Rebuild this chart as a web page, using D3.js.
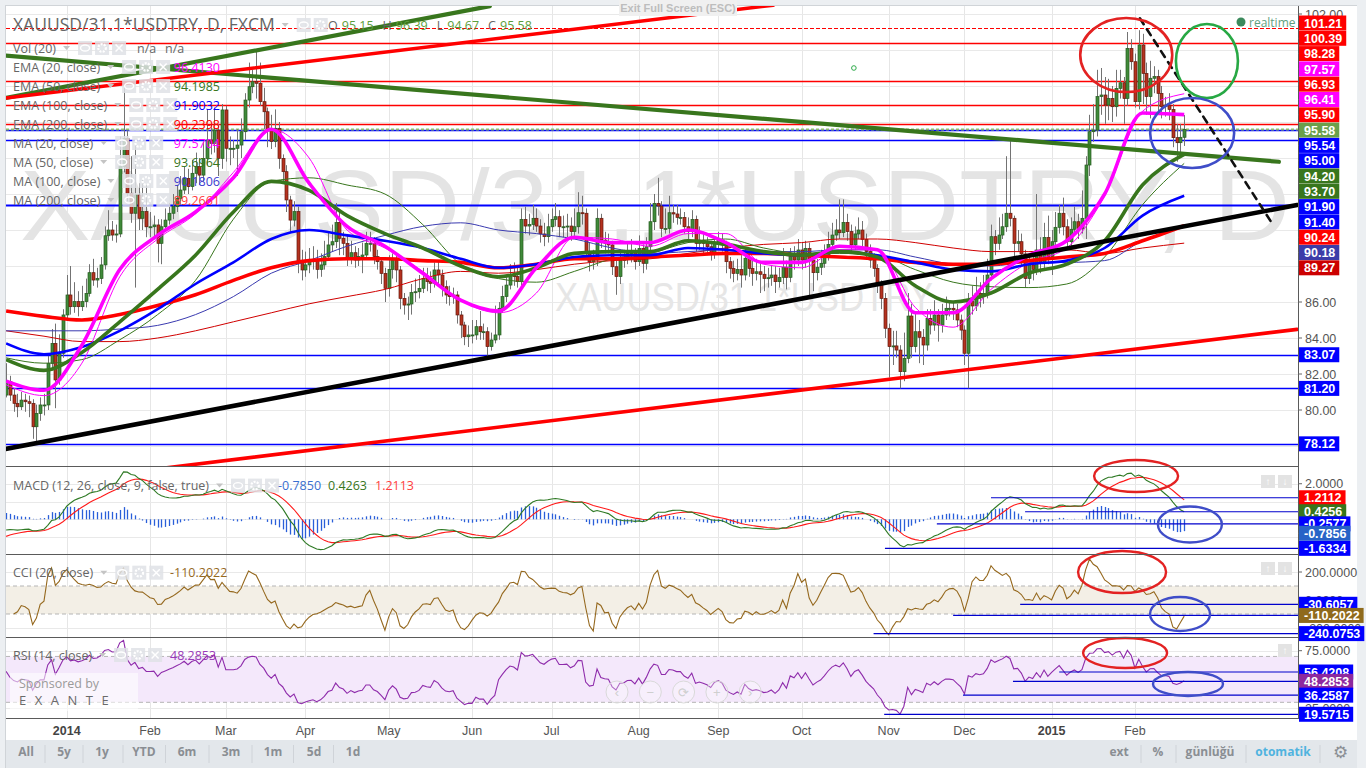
<!DOCTYPE html>
<html><head><meta charset="utf-8">
<script src="https://cdn.jsdelivr.net/npm/d3@7"></script>
<style>html,body{margin:0;padding:0;background:#eceff2;overflow:hidden}svg{display:block}</style>
</head><body>
<svg id="chart" width="1366" height="768"></svg>
<script>
// ---------------- DATA ----------------
const firstOpen = 80.83;
const closes = [
81.57,80.83,80.37,80.18,80.55,80.46,80.37,79.07,79.81,80.28,
80.28,82.59,83.70,81.67,83.15,85.28,86.39,85.74,86.02,85.74,
86.02,86.48,87.63,87.22,87.31,88.06,89.68,90.00,89.72,89.78,
93.52,95.09,92.04,90.93,91.94,90.65,91.02,90.18,90.18,90.28,
89.26,90.18,90.55,90.93,91.30,91.76,92.22,92.87,92.41,93.15,
93.52,93.05,93.98,95.00,94.81,95.55,93.98,96.67,94.54,94.54,
94.54,94.72,95.46,97.22,97.96,98.24,98.15,97.13,96.57,95.55,
94.91,95.65,93.98,93.24,91.67,90.55,91.02,88.24,87.78,88.06,
88.24,88.37,87.81,88.06,88.52,89.17,89.35,90.41,89.54,89.26,
88.37,88.74,88.33,88.52,88.61,89.26,89.26,88.52,88.24,87.59,
86.76,87.81,88.33,87.78,86.20,85.83,85.89,86.52,86.57,86.76,
87.31,87.13,87.04,87.78,87.50,86.85,86.39,86.30,86.39,85.28,
84.72,84.07,84.17,84.17,84.63,84.35,84.35,83.52,83.89,84.17,
85.65,86.30,86.94,87.50,87.41,87.13,90.59,90.22,90.31,90.65,
90.22,89.78,89.63,90.18,90.59,90.74,90.18,90.18,90.22,89.91,
90.18,90.96,90.93,88.80,88.24,88.33,90.65,89.44,89.26,89.17,
87.96,87.41,88.33,88.37,88.70,88.74,88.24,88.98,88.15,89.07,
90.46,91.48,91.33,90.09,90.09,90.96,90.89,90.70,90.70,90.18,
89.91,90.59,89.26,89.44,89.26,89.07,88.70,89.26,89.44,89.17,
88.24,87.87,87.59,87.81,87.50,88.43,87.87,87.59,87.68,87.54,
87.31,87.35,87.50,87.13,87.37,87.93,87.37,88.52,88.33,88.89,
88.33,88.98,88.33,87.63,87.93,88.15,88.61,89.20,89.72,90.00,
89.85,90.42,89.91,89.17,89.78,90.00,89.48,88.80,88.33,87.87,
86.94,86.20,84.54,83.52,83.56,83.33,82.13,82.87,85.22,83.52,
84.35,84.04,83.61,85.09,84.72,85.28,84.72,85.28,85.65,85.65,
85.56,85.00,84.44,83.15,86.02,85.78,86.48,86.30,86.48,87.50,
89.63,89.26,89.72,90.18,90.93,90.65,89.26,89.35,88.67,87.31,
88.06,87.81,88.89,88.15,89.59,88.52,89.35,90.15,90.93,90.18,
89.35,90.04,90.46,90.09,90.65,93.61,95.46,95.55,97.41,97.50,
96.94,97.31,96.85,97.87,98.18,97.31,100.09,99.35,97.13,100.28,
98.70,97.41,98.43,98.52,97.59,96.85,96.94,96.70,95.13,94.85,
95.15,95.58];
const highs = [
82.6,81.9,81.2,80.9,81.0,80.9,80.8,80.6,80.3,80.7,
80.9,83.0,84.5,84.8,84.2,85.6,87.5,88.0,87.1,86.6,
86.9,87.3,88.1,88.4,87.9,88.5,90.2,91.1,90.5,90.3,
95.2,98.1,95.5,94.1,94.7,92.6,92.8,92.5,91.0,90.8,
90.6,90.6,91.2,91.5,92.0,92.5,93.0,93.5,93.4,93.9,
94.3,94.0,94.9,96.7,95.9,96.8,95.9,97.0,96.9,95.2,
95.0,95.6,96.2,97.6,99.3,98.9,100.0,99.3,97.9,96.8,
96.4,96.7,96.0,94.2,93.6,91.9,91.6,91.3,88.9,88.8,
89.0,89.1,88.9,88.7,89.4,89.9,90.3,91.5,91.0,89.9,
89.7,89.4,89.1,89.0,89.3,89.9,89.9,89.6,88.9,88.5,
87.9,88.6,88.7,88.6,88.0,86.5,86.3,87.0,87.3,87.5,
87.9,87.9,87.7,88.2,88.3,87.8,87.2,86.9,86.8,86.6,
85.5,84.9,84.7,85.0,85.0,85.5,84.8,84.6,84.3,85.8,
86.0,86.9,87.4,88.1,88.2,87.9,91.2,91.3,90.9,91.4,
91.2,90.6,90.4,90.9,91.2,91.5,91.1,90.8,90.9,90.7,
91.2,92.1,91.9,91.2,89.3,88.9,91.2,90.9,89.9,89.8,
89.4,88.3,88.8,88.9,89.3,89.5,89.0,89.7,89.2,89.6,
91.5,92.0,92.9,91.6,91.2,91.9,91.4,91.4,91.2,91.0,
90.7,91.1,90.8,90.2,89.9,89.6,89.4,89.6,89.9,89.8,
89.4,88.5,88.3,88.4,88.6,89.0,88.7,88.3,88.4,88.2,
88.0,87.9,88.0,88.0,87.9,89.0,88.3,89.0,89.1,89.5,
89.3,89.4,89.3,88.6,88.4,88.9,89.2,89.9,90.4,90.6,
91.7,91.7,90.9,90.3,90.2,90.7,90.5,89.8,89.2,88.7,
88.1,87.2,86.5,84.8,84.4,84.4,83.6,84.3,86.5,85.9,
85.4,85.0,84.5,85.6,85.6,86.1,85.6,85.9,86.3,86.1,
86.0,85.9,85.3,84.7,86.5,86.9,87.4,87.1,87.5,88.4,
90.3,90.0,90.7,90.9,94.1,95.0,90.8,90.0,89.8,88.9,
88.6,88.5,92.0,89.6,90.4,90.8,90.0,91.0,91.4,91.8,
90.6,90.7,91.3,90.9,92.2,94.1,96.4,97.0,98.9,99.0,
98.5,98.4,98.0,98.9,98.9,98.5,101.0,100.6,99.8,101.1,
100.9,99.3,99.4,99.1,98.9,98.0,97.4,97.6,97.0,95.9,
95.9,96.39];
const lows = [
80.7,80.5,79.9,79.6,80.0,79.9,79.6,78.4,78.1,79.4,
79.7,80.0,82.2,80.1,81.4,82.9,85.0,85.3,85.4,85.2,
85.5,85.7,86.3,86.9,86.8,87.0,87.8,89.4,89.4,89.3,
89.6,93.2,91.6,90.4,86.8,90.0,90.0,89.6,89.6,89.6,
88.2,88.1,89.9,90.3,90.6,91.0,91.4,92.0,92.0,92.2,
92.6,92.5,92.7,93.6,94.2,94.3,93.0,93.4,93.8,93.6,
94.0,93.0,94.0,95.0,96.8,97.6,97.3,96.9,95.6,94.6,
94.5,94.6,93.4,92.7,91.0,89.9,90.2,87.6,87.2,87.4,
87.6,87.8,87.3,87.4,87.8,88.3,88.8,89.0,88.6,88.6,
88.0,88.1,87.9,88.0,87.6,88.4,88.8,88.1,87.8,87.0,
86.0,86.3,87.3,87.1,85.6,85.3,85.0,85.3,86.0,86.2,
86.5,86.6,86.5,86.8,87.0,86.3,85.9,85.8,85.9,84.8,
84.0,83.6,83.5,83.7,83.9,83.9,83.9,83.0,83.3,83.7,
83.9,85.4,86.0,86.7,86.9,86.8,86.9,89.8,89.7,90.0,
89.9,89.3,89.1,89.3,89.9,90.2,89.6,89.6,89.6,89.4,
89.6,89.8,90.3,88.4,87.7,87.8,88.0,89.0,88.7,88.7,
87.5,86.4,87.0,87.9,88.1,88.2,87.8,88.0,87.6,87.8,
88.8,90.0,90.8,89.6,89.8,89.8,90.4,90.3,90.3,89.8,
89.3,89.6,88.8,88.9,88.7,88.6,88.3,88.4,89.0,88.8,
87.6,87.3,87.1,87.2,86.8,87.2,87.4,86.9,87.2,86.5,
86.6,86.8,86.9,86.5,86.8,87.0,86.7,87.1,87.8,88.0,
87.8,87.9,86.2,86.6,87.2,87.5,87.9,88.3,88.9,89.4,
89.5,89.6,89.4,88.8,88.9,89.5,89.1,88.4,87.9,87.4,
86.5,85.6,84.0,81.8,82.5,82.9,81.2,81.6,82.6,82.9,
83.2,82.6,82.5,83.3,84.2,84.4,83.8,84.3,85.0,85.2,
85.0,84.6,83.9,82.5,81.2,85.3,85.5,85.7,85.9,86.2,
87.2,88.6,88.9,89.5,89.9,90.2,88.5,88.8,88.0,86.8,
87.0,87.2,87.5,87.6,87.8,88.1,87.5,88.9,89.8,89.7,
88.9,89.0,89.8,89.5,89.8,89.5,93.0,94.9,95.2,96.4,
95.9,96.1,96.0,96.3,97.3,95.9,96.9,98.9,96.8,96.7,
97.0,96.4,96.2,97.6,96.6,96.2,96.3,96.1,94.6,93.8,
94.3,94.67];

const tickLabels = ["2014","Feb","Mar","Apr","May","Jun","Jul","Aug","Sep","Oct","Nov","Dec","2015","Feb"];
const tickIndex  = [16,38,58,79,101,123,144,167,188,210,233,253,276,298];

// moving averages read at these bar indices
const maIdx  = [0,10,20,30,40,50,60,70,80,90,100,110,120,130,140,150,160,170,180,190,200,210,220,230,240,250,260,270,280,290,300,311];
const ema20  = [81.6,81.1,83.6,87.8,89.7,91.0,92.9,95.6,92.6,90.2,89.1,87.6,86.1,85.5,87.9,89.6,89.3,89.3,90.0,89.3,88.2,88.2,89.1,88.9,85.4,85.4,87.3,88.6,89.4,92.0,96.5,96.41];
const ma20   = [81.4,80.8,82.6,87.4,89.5,90.9,93.2,95.6,94.0,90.0,89.0,87.7,86.1,85.4,86.5,89.6,89.5,89.1,89.8,89.8,88.1,87.9,88.9,88.9,85.7,84.6,86.7,88.2,89.0,91.9,96.6,97.57];
const ema50  = [82.8,82.2,83.2,84.9,86.7,88.6,91.0,92.7,92.2,90.8,89.8,89.0,88.0,87.4,87.9,88.7,88.8,88.8,89.4,89.2,88.8,88.6,88.8,88.5,86.9,86.0,86.5,87.6,88.1,89.4,92.5,94.2];
const ma50   = [82.9,82.6,82.8,83.9,85.3,87.2,90.6,92.7,92.9,92.5,92.0,90.3,88.1,87.3,87.1,87.7,88.4,88.7,89.3,89.5,89.0,88.7,88.7,88.6,87.8,87.1,86.85,86.8,87.0,88.5,91.4,93.7];
const ema100 = [83.7,83.1,83.5,84.4,85.6,87.0,88.2,89.5,90.0,89.7,89.4,89.0,88.4,87.9,88.1,88.5,88.6,88.6,89.0,88.9,88.7,88.6,88.8,88.6,88.2,87.8,87.7,88.1,88.3,89.0,90.8,91.9];
const ma100  = [84.4,84.4,84.4,84.5,84.7,85.3,86.3,87.6,88.3,89.1,89.7,90.2,90.4,90.0,89.8,89.5,89.0,88.7,88.8,88.9,88.8,88.8,88.9,88.9,88.5,88.1,88.0,88.2,88.2,88.3,89.4,90.18];
const ema200 = [85.5,85.2,85.0,85.3,85.8,86.4,87.2,87.9,88.3,88.4,88.4,88.3,88.2,87.9,88.1,88.4,88.4,88.5,88.6,88.7,88.7,88.6,88.5,88.4,88.2,88.1,88.1,88.3,88.5,88.7,89.4,90.24];
const ma200  = [84.4,84.1,83.8,83.8,84.0,84.4,84.9,85.4,85.9,86.3,86.7,87.3,87.7,87.6,87.8,88.1,88.3,88.4,88.7,89.0,89.2,89.3,89.5,89.5,89.3,89.0,88.8,88.8,88.9,88.7,89.0,89.27];

// indicator seeds (state before the first visible bar)
const ema12Seed = 81.0, ema26Seed = 81.7, signalSeed = -1.05;
const rsiSeedGain = 0.30, rsiSeedLoss = 0.27;

// horizontal levels on the price pane
const levelValues = [101.21,100.39,98.28,96.93,95.90,95.54,95.00,91.40,83.07,81.20,78.12];
const levelKinds  = ["r-dash","r","r","r","r","b","b","b2","b","b","b"];
const lastClose = 95.58;

// right-axis price labels
const axisLabelValues = [101.21,100.39,98.28,97.57,96.93,96.41,95.90,95.58,95.54,95.00,94.20,93.70,91.90,91.40,90.24,90.18,89.27];
const axisLabelKinds  = ["red","red","red","mag","red","mag","red","close","blue","blue","dgreen","dgreen","blue","blue","red","slate","dred"];
const lowLabelValues  = [83.07,81.20,78.12];
const priceTicks = [102,86,84,82,80];

// legend
const legendNames  = ["EMA (20, close)","EMA (50, close)","EMA (100, close)","EMA (200, close)","MA (20, close)","MA (50, close)","MA (100, close)","MA (200, close)"];
const legendValues = ["96.4130","94.1985","91.9032","90.2398","97.5704","93.6964","90.1806","89.2661"];
const ohlcNames  = ["O","H","L","C"];
const ohlcValues = ["95.15","96.39","94.67","95.58"];

// trend lines [barIndex, price]
const trendFrom = [[-0.3,97.33],[-0.3,99.69],[0,97.33],[39.3,76.71],[-0.3,77.83],[299.3,101.76]];
const trendTo   = [[127.7,102.44],[336.0,93.79],[202.5,102.49],[340.8,84.48],[340.8,91.39],[334.2,90.37]];
const trendKinds = ["green","green","red","red","black","dash"];

// ellipses: centre [bar, value]
const ellMainCenters = [[295.7,99.72],[317,99.39],[313.1,95.39]];
const ellMacdCenters = [[298.3,2.435],[312.5,-0.29]];
const ellCciCenters  = [[294.6,200],[309.9,-100]];
const ellRsiCenters  = [[295.4,73],[312,46]];

// indicator level lines: [value, startBar]
const macdLevels = [[1.2112,260],[0.4256,269],[-0.2577,245.7],[-1.6334,232]];
const cciLevels  = [[-30.6057,267.7],[-110.2022,250],[-240.0753,229]];
const rsiLevels  = [[56.4208,278],[48.2853,265.8],[36.2587,252.6],[19.5715,231.8]];
const macdLegend = ["-0.7850","0.4263","1.2113"];
const cciLegend = "-110.2022", rsiLegend = "48.2853";
const macdTicks=[2], cciTicks=[200,0,-200], rsiTicks=[75,50,25];

// ---------------- DRAW ----------------
const svg = d3.select('#chart');
const AX = '"Liberation Sans", Arial, sans-serif';
const UI = '"Open Sans", "Liberation Sans", Arial, sans-serif';
const PL = 6, PR = 1298;
const P = {main:[6,466], macd:[467,554], cci:[555,637], rsi:[638,718]};

const x  = d3.scaleLinear().domain([0, closes.length-1]).range([6.1, 1184.2]);
const y  = d3.scaleLinear().domain([86,102]).range([302,14]);
const yM = d3.scaleLinear().domain([0,2]).range([519.3,483.74]);
const yC = d3.scaleLinear().domain([0,200]).range([600,572]);
const yR = d3.scaleLinear().domain([75,25]).range([650.7,708.05]);

const defs = svg.append('defs');
Object.entries(P).forEach(([k,[t,b]])=>{
  defs.append('clipPath').attr('id','clip-'+k).append('rect')
    .attr('x',PL).attr('y',t).attr('width',PR-PL).attr('height',b-t);
});

// frame
svg.append('rect').attr('width',1366).attr('height',768).attr('fill','#eceff2');
svg.append('rect').attr('x',6).attr('y',5).attr('width',1351).attr('height',735).attr('fill','#ffffff');
svg.append('rect').attr('x',6).attr('y',740).attr('width',1351).attr('height',28).attr('fill','#e3e7eb');
svg.append('line').attr('x1',5.5).attr('x2',5.5).attr('y1',5).attr('y2',768).attr('stroke','#d0d4d8');
svg.append('line').attr('x1',5).attr('x2',1357).attr('y1',5.5).attr('y2',5.5).attr('stroke','#d0d4d8');

// vertical grid
const grid = svg.append('g');
grid.selectAll('line.v').data(tickIndex).join('line')
  .attr('x1',d=>Math.round(x(d))+0.5).attr('x2',d=>Math.round(x(d))+0.5)
  .attr('y1',6).attr('y2',718).attr('stroke','#e6e6e6');
// horizontal grids
grid.selectAll('line.hm').data(d3.range(78,103,2)).join('line')
  .attr('x1',PL).attr('x2',PR).attr('y1',d=>Math.round(y(d))+0.5).attr('y2',d=>Math.round(y(d))+0.5).attr('stroke','#e9e9e9');
[[yM,[2,1,0,-1]],[yC,[200,0,-200]],[yR,[75,50,25]]].forEach(([sc,vals])=>{
  vals.forEach(v=>grid.append('line').attr('x1',PL).attr('x2',PR)
    .attr('y1',Math.round(sc(v))+0.5).attr('y2',Math.round(sc(v))+0.5).attr('stroke','#e9e9e9'));
});

// watermarks
const gMain = svg.append('g').attr('clip-path','url(#clip-main)');
gMain.append('text').attr('x',20).attr('y',240).attr('font-family',AX).attr('font-size',100)
  .attr('fill','#e4e4e4').attr('textLength',1270).attr('lengthAdjust','spacingAndGlyphs').text('XAUUSD/31.1*USDTRY, D');
gMain.append('text').attr('x',555).attr('y',311).attr('font-family',AX).attr('font-size',40)
  .attr('fill','#e6e6e6').attr('textLength',378).attr('lengthAdjust','spacingAndGlyphs').text('XAUUSD/31.1*USDTRY');

// level lines
const levelStyle = {"r-dash":["#ff0000",1.2,"4,2"],"r":["#ff0000",1.3,null],"b":["#0000ff",1.3,null],"b2":["#0000ff",2.2,null]};
levelValues.forEach((v,k)=>{
  const s = levelStyle[levelKinds[k]];
  gMain.append('line').attr('x1',PL).attr('x2',PR).attr('y1',Math.round(y(v))+0.5).attr('y2',Math.round(y(v))+0.5)
    .attr('stroke',s[0]).attr('stroke-width',s[1]).attr('stroke-dasharray',s[2]);
});
gMain.append('line').attr('x1',PL).attr('x2',PR).attr('y1',y(lastClose)).attr('y2',y(lastClose))
  .attr('stroke','#8dbb6d').attr('stroke-width',2).attr('stroke-dasharray','3,2');

// candles
const bars = closes.map((c,i)=>{
  const o = i ? closes[i-1] : firstOpen;
  return {i, o, c, h: Math.max(highs[i],o,c), l: Math.min(lows[i],o,c)};
});
const gC = gMain.append('g');
gC.selectAll('line').data(bars).join('line')
  .attr('x1',d=>Math.round(x(d.i))+0.5).attr('x2',d=>Math.round(x(d.i))+0.5)
  .attr('y1',d=>y(d.h)).attr('y2',d=>y(d.l)).attr('stroke','#737373').attr('stroke-width',1);
gC.selectAll('rect').data(bars).join('rect')
  .attr('x',d=>Math.round(x(d.i))-1)
  .attr('y',d=>y(Math.max(d.o,d.c)))
  .attr('width',3)
  .attr('height',d=>Math.max(1,y(Math.min(d.o,d.c))-y(Math.max(d.o,d.c))))
  .attr('fill',d=>d.c>=d.o?'#3f8a3a':'#b5321f')
  .attr('stroke',d=>d.c>=d.o?'#265a1f':'#62190e').attr('stroke-width',0.7);

// moving averages
const maLine = d3.line().x((d,k)=>x(maIdx[k])).y(d=>y(d)).curve(d3.curveMonotoneX);
[[ma200,'#d00000',1],[ma100,'#3a3ab0',1],[ma50,'#38761d',1],[ma20,'#ff00ff',1],
 [ema200,'#ff0000',3.6],[ema100,'#0000ff',2.6],[ema50,'#38761d',3.6],[ema20,'#ff00ff',3.6]]
.forEach(([arr,col,w])=>{
  gMain.append('path').attr('d',maLine(arr)).attr('fill','none').attr('stroke',col).attr('stroke-width',w)
    .attr('stroke-linejoin','round');
});

// trend lines
const trendStyle = {green:['#38761d',4.2,null],red:['#ff0000',3.6,null],black:['#000000',4.6,null],dash:['#111111',2.6,'7,6']};
trendFrom.forEach((f,k)=>{
  const t = trendTo[k], s = trendStyle[trendKinds[k]];
  gMain.append('line').attr('x1',x(f[0])).attr('y1',y(f[1])).attr('x2',x(t[0])).attr('y2',y(t[1]))
    .attr('stroke',s[0]).attr('stroke-width',s[1]).attr('stroke-dasharray',s[2]).attr('stroke-linecap','round');
});
// ellipses main
const ellCols = ['#e32222','#27a844','#3f4dc8'];
const ellMainR = [[46,37],[31,37],[42,35]];
ellMainCenters.forEach((c,k)=>{
  svg.append('ellipse').attr('cx',x(c[0])).attr('cy',y(c[1])).attr('rx',ellMainR[k][0]).attr('ry',ellMainR[k][1])
    .attr('fill','none').attr('stroke',ellCols[k]).attr('stroke-width',2.6);
});
// small green marker
gMain.append('circle').attr('cx',x(223.8)).attr('cy',y(99.0)).attr('r',2.3).attr('fill','none').attr('stroke','#2eaa4a').attr('stroke-width',1);

// ---------- indicators ----------
function ema(arr,n,seed){const k=2/(n+1);let e=seed;return arr.map(v=>(e=e+k*(v-e)));}
const e12 = ema(closes,12,ema12Seed), e26 = ema(closes,26,ema26Seed);
const macd = e12.map((v,i)=>v-e26[i]);
const signal = ema(macd,9,signalSeed);
const hist = macd.map((v,i)=>v-signal[i]);

const tp = closes.map((c,i)=>(bars[i].h+bars[i].l+c)/3);
const cci = tp.map((t,i)=>{
  const w = tp.slice(Math.max(0,i-19), i+1);
  if (w.length < 3) return null;
  const m = d3.mean(w), md = d3.mean(w, v=>Math.abs(v-m));
  return md ? (t-m)/(0.015*md) : 0;
});
let ag = rsiSeedGain, al = rsiSeedLoss;
const rsi = closes.map((c,i)=>{
  const ch = c - (i ? closes[i-1] : firstOpen);
  ag = (ag*13 + Math.max(ch,0))/14; al = (al*13 + Math.max(-ch,0))/14;
  return 100 - 100/(1 + ag/al);
});

// MACD pane
const gMacd = svg.append('g').attr('clip-path','url(#clip-macd)');
gMacd.selectAll('line.h').data(hist).join('line')
  .attr('x1',(d,i)=>Math.round(x(i))+0.5).attr('x2',(d,i)=>Math.round(x(i))+0.5)
  .attr('y1',yM(0)).attr('y2',d=>yM(d)).attr('stroke','#2a5fd9').attr('stroke-width',1.3);
gMacd.append('path').attr('d',d3.line().x((d,i)=>x(i)).y(d=>yM(d))(signal)).attr('fill','none').attr('stroke','#ff1a1a').attr('stroke-width',1.1);
gMacd.append('path').attr('d',d3.line().x((d,i)=>x(i)).y(d=>yM(d))(macd)).attr('fill','none').attr('stroke','#2f7a25').attr('stroke-width',1.1);
macdLevels.forEach(([v,s])=>gMacd.append('line').attr('x1',x(s)).attr('x2',PR).attr('y1',yM(v)).attr('y2',yM(v)).attr('stroke','#0000cc').attr('stroke-width',1.2));

// CCI pane
const gCci = svg.append('g').attr('clip-path','url(#clip-cci)');
gCci.append('rect').attr('x',PL).attr('width',PR-PL).attr('y',yC(100)).attr('height',yC(-100)-yC(100)).attr('fill','#f3efe6');
[100,-100].forEach(v=>gCci.append('line').attr('x1',PL).attr('x2',PR).attr('y1',yC(v)).attr('y2',yC(v)).attr('stroke','#b5b5b5').attr('stroke-dasharray','4,3'));
gCci.append('path').attr('d',d3.line().defined(d=>d!==null).x((d,i)=>x(i)).y(d=>yC(d))(cci)).attr('fill','none').attr('stroke','#95681e').attr('stroke-width',1.1);
cciLevels.forEach(([v,s])=>gCci.append('line').attr('x1',x(s)).attr('x2',PR).attr('y1',yC(v)).attr('y2',yC(v)).attr('stroke','#0000cc').attr('stroke-width',1.2));

// RSI pane
const gRsi = svg.append('g').attr('clip-path','url(#clip-rsi)');
gRsi.append('rect').attr('x',PL).attr('width',PR-PL).attr('y',yR(70)).attr('height',yR(30)-yR(70)).attr('fill','#f4e8fb');
[70,30].forEach(v=>gRsi.append('line').attr('x1',PL).attr('x2',PR).attr('y1',yR(v)).attr('y2',yR(v)).attr('stroke','#b5b5b5').attr('stroke-dasharray','4,3'));
gRsi.append('path').attr('d',d3.line().x((d,i)=>x(i)).y(d=>yR(d))(rsi)).attr('fill','none').attr('stroke','#8e2bab').attr('stroke-width',1.1);
rsiLevels.forEach(([v,s])=>gRsi.append('line').attr('x1',x(s)).attr('x2',PR).attr('y1',yR(v)).attr('y2',yR(v)).attr('stroke','#0000cc').attr('stroke-width',1.2));

// indicator ellipses
const ellR2 = [[[42,16],[32,18]],[[44,21],[30,17]],[[42,15],[35,12]]];
[[ellMacdCenters,yM],[ellCciCenters,yC],[ellRsiCenters,yR]].forEach(([cs,sc],p)=>{
  cs.forEach((c,k)=>svg.append('ellipse').attr('cx',x(c[0])).attr('cy',sc(c[1]))
    .attr('rx',ellR2[p][k][0]).attr('ry',ellR2[p][k][1]).attr('fill','none')
    .attr('stroke',k===0?'#e32222':'#3f4dc8').attr('stroke-width',2.4));
});

// sponsored box + nav circles
svg.append('rect').attr('x',10).attr('y',673).attr('width',128).attr('height',38).attr('fill','#ffffff').attr('opacity',0.55);
svg.append('text').attr('x',19).attr('y',688).attr('font-family',UI).attr('font-size',12.5).attr('fill','#9a9a9a').text('Sponsored by');
svg.append('text').attr('x',19).attr('y',705).attr('font-family',UI).attr('font-size',13).attr('fill','#6a6a6a').attr('letter-spacing',8.5).text('EXANTE');
const navG = ['‹','−','⟳','+','›'];
navG.forEach((g,k)=>{
  const cx = 617 + k*33.3;
  svg.append('circle').attr('cx',cx).attr('cy',692).attr('r',11).attr('fill','#ffffff').attr('fill-opacity',0.3).attr('stroke','#d9d9d9');
  svg.append('text').attr('x',cx).attr('y',697).attr('text-anchor','middle').attr('font-family',AX).attr('font-size',13).attr('fill','#cfcfcf').text(g);
});

// pane separators & axis line
[466.5,554.5,637.5,718.5].forEach(v=>svg.append('line').attr('x1',PL).attr('x2',PR).attr('y1',v).attr('y2',v).attr('stroke','#5a5a5a'));
svg.append('rect').attr('x',1299).attr('y',6).attr('width',58).attr('height',712).attr('fill','#ffffff');
svg.append('line').attr('x1',1298.5).attr('x2',1298.5).attr('y1',6).attr('y2',719).attr('stroke','#5a5a5a');

// ---------- right axis labels ----------
const gA = svg.append('g').attr('font-family',AX);
function tickText(yy,txt){
  gA.append('line').attr('x1',1298).attr('x2',1302).attr('y1',yy).attr('y2',yy).attr('stroke','#666');
  gA.append('text').attr('x',1305).attr('y',yy+4.5).attr('font-size',12.5).attr('fill','#555').text(txt);
}
function tag(yy,txt,bg){
  const g = gA.append('g');
  g.append('line').attr('x1',1298).attr('x2',1302).attr('y1',yy).attr('y2',yy).attr('stroke','#666');
  const r = g.append('rect').attr('x',1299).attr('y',yy-7.5).attr('height',15).attr('fill',bg);
  const t = g.append('text').attr('x',1304).attr('y',yy+4.6).attr('font-size',12.5).attr('font-weight','bold').attr('fill','#fff').text(txt);
  r.attr('width',t.node().getComputedTextLength()+9);
}
const kindCol = {red:'#ff0000',mag:'#ff00ff',close:'#6a9f4b',blue:'#0000ff',dgreen:'#38761d',slate:'#3c3ca8',dred:'#cc0000'};
priceTicks.forEach(v=>tickText(y(v),v.toFixed(2)));
axisLabelValues.forEach((v,k)=>tag(23 + k*15.3, v.toFixed(2), kindCol[axisLabelKinds[k]]));
lowLabelValues.forEach(v=>tag(y(v), v.toFixed(2), '#0000ff'));

macdTicks.forEach(v=>tickText(yM(v),v.toFixed(4)));
tag(yM(1.2112),'1.2112','#ff0000');
tag(yM(0.4256),'0.4256','#38761d');
tag(yM(-0.2577),'-0.2577','#0000ff');
tag(yM(-0.7856),'-0.7856','#2763c7');
tag(yM(-1.6334),'-1.6334','#0000ff');

cciTicks.forEach(v=>tickText(yC(v),v.toFixed(4)));
tag(yC(-30.6057),'-30.6057','#0000ff');
tag(yC(-110.2022),'-110.2022','#8f6a1c');
tag(yC(-240.0753),'-240.0753','#0000ff');

rsiTicks.forEach(v=>tickText(yR(v),v.toFixed(4)));
tag(yR(56.4208),'56.4208','#0000ff');
tag(yR(48.2853),'48.2853','#8e2a9e');
tag(yR(36.2587),'36.2587','#0000ff');
tag(yR(19.5715),'19.5715','#0000ff');

// pane up/down buttons
[[1261,475],[1278,475],[1261,562],[1278,562],[1278,644]].forEach(([bx,by],k)=>{
  svg.append('rect').attr('x',bx).attr('y',by).attr('width',14).attr('height',13).attr('fill','#e3e3e3');
  svg.append('text').attr('x',bx+7).attr('y',by+10).attr('text-anchor','middle').attr('font-size',10).attr('font-family',AX)
    .attr('fill','#fff').attr('font-weight','bold').text((k%2===0&&k<4)||k===4?'↑':'↓');
});

// ---------- legends ----------
const gL = svg.append('g').attr('font-family',UI);
function icons(x0,yc,n){
  for(let k=0;k<n;k++){
    const bx = x0 + k*17;
    gL.append('rect').attr('x',bx).attr('y',yc-7).attr('width',14).attr('height',14).attr('fill','#dfe2e6').attr('opacity',0.85);
    if(k===0){gL.append('ellipse').attr('cx',bx+7).attr('cy',yc).attr('rx',4.5).attr('ry',3).attr('fill','none').attr('stroke','#fff').attr('stroke-width',1.4);}
    else if(k===1){gL.append('circle').attr('cx',bx+7).attr('cy',yc).attr('r',3.8).attr('fill','none').attr('stroke','#fff').attr('stroke-width',2.2).attr('stroke-dasharray','2,1.2');}
    else {gL.append('path').attr('d',`M${bx+3.5},${yc-3.5}L${bx+10.5},${yc+3.5}M${bx+10.5},${yc-3.5}L${bx+3.5},${yc+3.5}`).attr('stroke','#fff').attr('stroke-width',1.5);}
  }
}
function caret(cx,yc){gL.append('path').attr('d',`M${cx},${yc-2}l7,0l-3.5,4z`).attr('fill','#c4c4c4');}
function legendRow(txt,yc,fs,nIcons){
  const t = gL.append('text').attr('x',13).attr('y',yc+fs*0.36).attr('font-size',fs).attr('fill','#666').text(txt);
  const e = 13 + t.node().getComputedTextLength();
  caret(e+7, yc);
  icons(e+22, yc, nIcons);
  return e;
}
// title row
const tEnd = legendRow('XAUUSD/31.1*USDTRY, D, FXCM',25,17.5,2);
let ox = 328;
ohlcNames.forEach((n,k)=>{
  const a = gL.append('text').attr('x',ox).attr('y',29.5).attr('font-size',12.5).attr('fill','#666').text(n);
  ox += a.node().getComputedTextLength()+4;
  const b = gL.append('text').attr('x',ox).attr('y',29.5).attr('font-size',12.5).attr('fill','#5c9e3c').text(ohlcValues[k]);
  ox += b.node().getComputedTextLength()+9;
});
// Vol
legendRow('Vol (20)',48,12.5,3);
gL.append('text').attr('x',137).attr('y',52.5).attr('font-size',12.5).attr('fill','#666').text('n/a');
gL.append('text').attr('x',165).attr('y',52.5).attr('font-size',12.5).attr('fill','#666').text('n/a');
const legCol = ['#ff00ff','#38761d','#0000ff','#ff0000','#ff00ff','#38761d','#3c3cd0','#ff3a3a'];
legendNames.forEach((n,k)=>{
  const yc = 67 + k*19;
  legendRow(n,yc,12.5,3);
  gL.append('text').attr('x',220).attr('y',yc+4.5).attr('text-anchor','end').attr('font-size',12.5).attr('fill',legCol[k]).text(legendValues[k]);
});
// indicator legends
legendRow('MACD (12, 26, close, 9, false, true)',485.6,12.5,3);
[['#3a6fd0',278],['#38761d',328],['#ff4040',375]].forEach(([c,xx],k)=>
  gL.append('text').attr('x',xx).attr('y',490.1).attr('font-size',12.5).attr('fill',c).text(macdLegend[k]));
legendRow('CCI (20, close)',572.7,12.5,3);
gL.append('text').attr('x',170).attr('y',577.2).attr('font-size',12.5).attr('fill','#96691e').text(cciLegend);
legendRow('RSI (14, close)',655,12.5,3);
gL.append('text').attr('x',170).attr('y',659.5).attr('font-size',12.5).attr('fill','#9a3ab8').text(rsiLegend);

// realtime
svg.append('circle').attr('cx',1241).attr('cy',22).attr('r',4.5).attr('fill','#3b8a5c');
svg.append('text').attr('x',1249).attr('y',26.5).attr('font-family',UI).attr('font-size',12).attr('fill','#5f9f80').text('realtime');

// exit full screen
svg.append('rect').attr('x',619).attr('y',0).attr('width',118).attr('height',16).attr('fill','#f0f0f0');
svg.append('text').attr('x',678).attr('y',12).attr('text-anchor','middle').attr('font-family',AX).attr('font-size',11).attr('font-weight','bold').attr('fill','#bdbdbd').text('Exit Full Screen (ESC)');

// x axis labels
const gX = svg.append('g').attr('font-family',AX).attr('font-size',12.5);
gX.selectAll('text').data(tickLabels).join('text')
  .attr('x',(d,k)=>x(tickIndex[k])).attr('y',735).attr('text-anchor','middle')
  .attr('fill',d=>/^\d+$/.test(d)?'#444':'#555').attr('font-weight',d=>/^\d+$/.test(d)?'bold':'normal').text(d=>d);

// toolbar
const gT = svg.append('g').attr('font-family',UI).attr('font-size',12).attr('font-weight','bold');
const leftBtns = [['All',26],['5y',64],['1y',102],['YTD',144],['6m',187],['3m',231],['1m',273],['5d',314],['1d',353]];
leftBtns.forEach(([t,cx],k)=>{
  gT.append('text').attr('x',cx).attr('y',755.5).attr('text-anchor','middle').attr('fill','#8a8e93').text(t);
  if(k<leftBtns.length-1){const sx=(cx+leftBtns[k+1][1])/2;gT.append('line').attr('x1',sx).attr('x2',sx).attr('y1',745).attr('y2',763).attr('stroke','#cfd3d8');}
});
[['ext',1119,'#8a8e93'],['%',1158,'#8a8e93'],['günlüğü',1210,'#8a8e93'],['otomatik',1283,'#4fb3df']].forEach(([t,cx,c])=>
  gT.append('text').attr('x',cx).attr('y',755.5).attr('text-anchor','middle').attr('fill',c).text(t));
[1141,1176,1246,1320].forEach(sx=>gT.append('line').attr('x1',sx).attr('x2',sx).attr('y1',745).attr('y2',763).attr('stroke','#cfd3d8'));
svg.append('text').attr('x',1340).attr('y',758).attr('text-anchor','middle').attr('font-size',17).attr('font-family',AX).attr('fill','#8a8e93').text('⚙');
</script>
</body></html>
